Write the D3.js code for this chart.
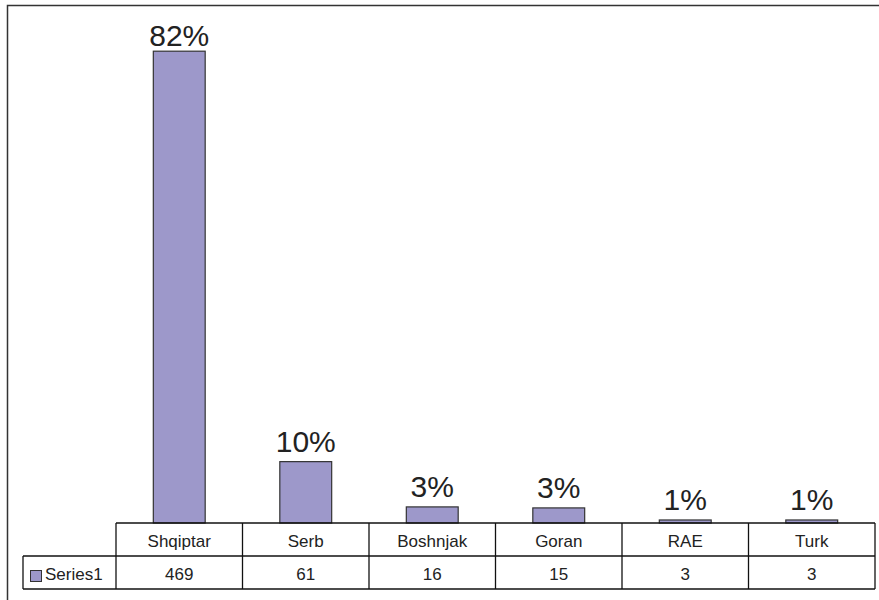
<!DOCTYPE html>
<html>
<head>
<meta charset="utf-8">
<script src="https://cdn.jsdelivr.net/npm/d3@7"></script>
<style>
  body { margin: 0; background: #fff; }
  text { font-family: "Liberation Sans", Arial, sans-serif; fill: #222; }
</style>
</head>
<body>
<script>
// data
var categories = ["Shqiptar", "Serb", "Boshnjak", "Goran", "RAE", "Turk"];
var values = [469, 61, 16, 15, 3, 3];
var percentLabels = ["82%", "10%", "3%", "3%", "1%", "1%"];
var seriesName = "Series1";

var width = 879, height = 600;
var tableLeft = 116, tableRight = 875;
var seriesLeft = 23;
var baseY = 523, rowH = 33;
var barFill = "#9d98ca";

var svg = d3.select("body").append("svg")
    .attr("width", width).attr("height", height);

// outer frame (runs off the right and bottom edge)
svg.append("rect")
    .attr("x", 7.5).attr("y", 5.5)
    .attr("width", 900).attr("height", 620)
    .attr("fill", "none").attr("stroke", "#333").attr("stroke-width", 1.5);

var x = d3.scaleBand().domain(categories).range([tableLeft, tableRight]);
var y = d3.scaleLinear().domain([0, 500]).range([baseY, 20]);
var barW = x.bandwidth() * 0.41;

// bars
svg.selectAll("rect.bar").data(values).enter().append("rect")
    .attr("class", "bar")
    .attr("x", function(d, i) { return x(categories[i]) + (x.bandwidth() - barW) / 2; })
    .attr("y", function(d) { return y(d); })
    .attr("width", barW)
    .attr("height", function(d) { return baseY - y(d); })
    .attr("fill", barFill)
    .attr("stroke", "#333").attr("stroke-width", 1.2);

// percentage labels (top one is pushed down to stay in the frame)
svg.selectAll("text.pct").data(values).enter().append("text")
    .attr("class", "pct")
    .attr("x", function(d, i) { return x(categories[i]) + x.bandwidth() / 2; })
    .attr("y", function(d) { return Math.max(46, y(d) - 10); })
    .attr("text-anchor", "middle")
    .style("font-size", "30px")
    .text(function(d, i) { return percentLabels[i]; });

// data table
var tbl = svg.append("g").attr("stroke", "#111").attr("stroke-width", 1.3);
tbl.append("line").attr("x1", tableLeft).attr("x2", tableRight).attr("y1", baseY).attr("y2", baseY);
tbl.append("line").attr("x1", seriesLeft).attr("x2", tableRight).attr("y1", baseY + rowH).attr("y2", baseY + rowH);
tbl.append("line").attr("x1", seriesLeft).attr("x2", tableRight).attr("y1", baseY + 2 * rowH).attr("y2", baseY + 2 * rowH);
tbl.append("line").attr("x1", seriesLeft).attr("x2", seriesLeft).attr("y1", baseY + rowH).attr("y2", baseY + 2 * rowH);
tbl.selectAll("line.col").data(categories.concat(["end"])).enter().append("line")
    .attr("class", "col")
    .attr("x1", function(d, i) { return i < categories.length ? x(d) : tableRight; })
    .attr("x2", function(d, i) { return i < categories.length ? x(d) : tableRight; })
    .attr("y1", baseY).attr("y2", baseY + 2 * rowH);

// category names
svg.selectAll("text.cat").data(categories).enter().append("text")
    .attr("class", "cat")
    .attr("x", function(d) { return x(d) + x.bandwidth() / 2; })
    .attr("y", baseY + 24)
    .attr("text-anchor", "middle")
    .style("font-size", "17px")
    .text(function(d) { return d; });

// values row
svg.selectAll("text.val").data(values).enter().append("text")
    .attr("class", "val")
    .attr("x", function(d, i) { return x(categories[i]) + x.bandwidth() / 2; })
    .attr("y", baseY + rowH + 24)
    .attr("text-anchor", "middle")
    .style("font-size", "17px")
    .text(function(d) { return d; });

// legend key + series name
svg.append("rect")
    .attr("x", 30.5).attr("y", 570.5).attr("width", 11).attr("height", 11)
    .attr("fill", barFill).attr("stroke", "#333").attr("stroke-width", 1);
svg.append("text")
    .attr("x", 45).attr("y", baseY + rowH + 24)
    .style("font-size", "17px")
    .text(seriesName);
</script>
</body>
</html>
